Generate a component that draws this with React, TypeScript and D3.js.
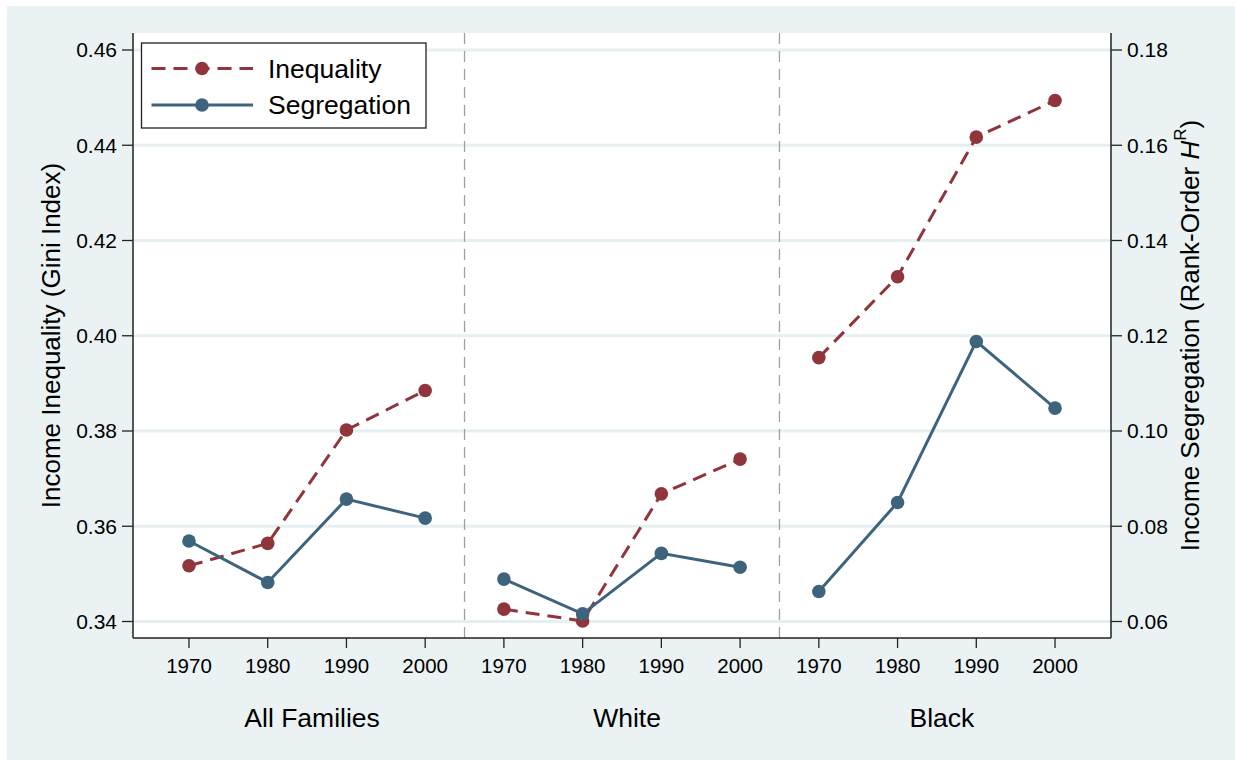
import React from "react";
import * as d3 from "d3";

// Census years shown inside each panel, and the three population groups.
const groups = ["All Families", "White", "Black"];
const years = ["1970", "1980", "1990", "2000"];

// Gini index of family income, one row per group.
const inequality = [
  [0.3517, 0.3564, 0.3802, 0.3885],
  [0.3426, 0.3401, 0.3668, 0.3741],
  [0.3954, 0.4124, 0.4417, 0.4494],
];

// Rank-order information theory index H^R, one row per group.
const segregation = [
  [0.0769, 0.0682, 0.0857, 0.0817],
  [0.0689, 0.0616, 0.0743, 0.0714],
  [0.0663, 0.085, 0.1188, 0.1048],
];

const leftTicks = [0.34, 0.36, 0.38, 0.4, 0.42, 0.44, 0.46];
const rightTicks = [0.06, 0.08, 0.1, 0.12, 0.14, 0.16, 0.18];

const W = 1235;
const H = 760;
const plot = { left: 133, right: 1111, top: 33, bottom: 638 };

const RED = "#90353b";
const BLUE = "#3e647d";
const GRID = "#e6eff1";
const BG = "#eaf2f3";
const FONT = "'Liberation Sans', Arial, Helvetica, sans-serif";

export default function App() {
  const nPerGroup = years.length;
  const nTotal = groups.length * nPerGroup;

  const x = d3
    .scaleLinear()
    .domain([-0.711, nTotal - 1 + 0.711])
    .range([plot.left, plot.right]);

  // Both axes share the same pixel span; the scales differ only in domain.
  const yL = d3.scaleLinear().domain([0.34, 0.46]).range([621.5, 50]);
  const yR = d3.scaleLinear().domain([0.06, 0.18]).range([621.5, 50]);

  const idx = (g: number, i: number) => g * nPerGroup + i;

  const makePath = (vals: number[], g: number, scale: d3.ScaleLinear<number, number>) =>
    d3
      .line<number>()
      .x((_, i) => x(idx(g, i)))
      .y((d) => scale(d))(vals) || "";

  const separators = d3.range(1, groups.length).map((g) => g * nPerGroup - 0.5);

  const legend = { x: 141.5, y: 43, w: 284.5, h: 85 };

  return (
    <svg
      width={W}
      height={H}
      style={{ position: "absolute", left: 0, top: 0, display: "block" }}
      fontFamily={FONT}
    >
      <rect x={0} y={0} width={W} height={H} fill="#ffffff" />
      <rect x={7} y={6} width={W - 7} height={H - 6} fill={BG} />
      <rect
        x={plot.left}
        y={plot.top}
        width={plot.right - plot.left}
        height={plot.bottom - plot.top}
        fill="#ffffff"
      />

      {/* horizontal gridlines */}
      {leftTicks.map((t) => (
        <line
          key={"g" + t}
          x1={plot.left}
          x2={plot.right}
          y1={yL(t)}
          y2={yL(t)}
          stroke={GRID}
          strokeWidth={3}
        />
      ))}

      {/* panel separators */}
      {separators.map((s) => (
        <line
          key={"s" + s}
          x1={x(s)}
          x2={x(s)}
          y1={plot.top}
          y2={plot.bottom}
          stroke="#a0a0a0"
          strokeWidth={1.3}
          strokeDasharray="11 7"
        />
      ))}

      {/* axes */}
      <line x1={plot.left} x2={plot.left} y1={plot.top} y2={plot.bottom} stroke="#222" strokeWidth={1.5} />
      <line x1={plot.right} x2={plot.right} y1={plot.top} y2={plot.bottom} stroke="#222" strokeWidth={1.5} />
      <line x1={plot.left} x2={plot.right} y1={plot.bottom} y2={plot.bottom} stroke="#222" strokeWidth={1.5} />

      {/* left ticks */}
      {leftTicks.map((t) => (
        <g key={"lt" + t}>
          <line x1={plot.left - 11} x2={plot.left} y1={yL(t)} y2={yL(t)} stroke="#222" strokeWidth={1.3} />
          <text x={plot.left - 16} y={yL(t)} dy="0.35em" textAnchor="end" fontSize={21} fill="#000">
            {d3.format(".2f")(t)}
          </text>
        </g>
      ))}

      {/* right ticks */}
      {rightTicks.map((t) => (
        <g key={"rt" + t}>
          <line x1={plot.right} x2={plot.right + 11} y1={yR(t)} y2={yR(t)} stroke="#222" strokeWidth={1.3} />
          <text x={plot.right + 16} y={yR(t)} dy="0.35em" textAnchor="start" fontSize={21} fill="#000">
            {d3.format(".2f")(t)}
          </text>
        </g>
      ))}

      {/* bottom ticks and year labels */}
      {groups.map((g, gi) =>
        years.map((yr, i) => (
          <g key={g + yr}>
            <line
              x1={x(idx(gi, i))}
              x2={x(idx(gi, i))}
              y1={plot.bottom}
              y2={plot.bottom + 10}
              stroke="#222"
              strokeWidth={1.3}
            />
            <text x={x(idx(gi, i))} y={673} textAnchor="middle" fontSize={20.5} fill="#000">
              {yr}
            </text>
          </g>
        ))
      )}

      {/* group labels */}
      {groups.map((g, gi) => (
        <text
          key={"gl" + g}
          x={x(idx(gi, 0) + (nPerGroup - 1) / 2) + 5}
          y={727}
          textAnchor="middle"
          fontSize={26.5}
          fill="#000"
        >
          {g}
        </text>
      ))}

      {/* axis titles */}
      <text
        transform={`translate(60, ${(plot.top + plot.bottom) / 2}) rotate(-90)`}
        textAnchor="middle"
        fontSize={26}
        fill="#000"
      >
        Income Inequality (Gini Index)
      </text>
      <text
        transform={`translate(1199, ${(plot.top + plot.bottom) / 2}) rotate(-90)`}
        textAnchor="middle"
        fontSize={26}
        fill="#000"
      >
        <tspan>Income Segregation (Rank-Order </tspan>
        <tspan fontStyle="italic">H</tspan>
        <tspan dy={-13} fontSize={17}>R</tspan>
        <tspan dy={13}>)</tspan>
      </text>

      {/* inequality series */}
      {inequality.map((vals, gi) => (
        <g key={"ineq" + gi}>
          <path d={makePath(vals, gi, yL)} fill="none" stroke={RED} strokeWidth={3} strokeDasharray="14 8" />
          {vals.map((v, i) => (
            <circle key={i} cx={x(idx(gi, i))} cy={yL(v)} r={6.8} fill={RED} />
          ))}
        </g>
      ))}

      {/* segregation series */}
      {segregation.map((vals, gi) => (
        <g key={"seg" + gi}>
          <path d={makePath(vals, gi, yR)} fill="none" stroke={BLUE} strokeWidth={3} />
          {vals.map((v, i) => (
            <circle key={i} cx={x(idx(gi, i))} cy={yR(v)} r={6.8} fill={BLUE} />
          ))}
        </g>
      ))}

      {/* legend */}
      <g>
        <rect
          x={legend.x}
          y={legend.y}
          width={legend.w}
          height={legend.h}
          fill="#ffffff"
          stroke="#222"
          strokeWidth={1.3}
        />
        <line x1={151.5} x2={253} y1={68.5} y2={68.5} stroke={RED} strokeWidth={3} strokeDasharray="14 8" />
        <circle cx={202} cy={68.5} r={6.8} fill={RED} />
        <text x={268} y={78} fontSize={26.5} fill="#000">
          Inequality
        </text>
        <line x1={151.5} x2={253} y1={105} y2={105} stroke={BLUE} strokeWidth={3} />
        <circle cx={202} cy={105} r={6.8} fill={BLUE} />
        <text x={268} y={114} fontSize={26.5} fill="#000">
          Segregation
        </text>
      </g>
    </svg>
  );
}
